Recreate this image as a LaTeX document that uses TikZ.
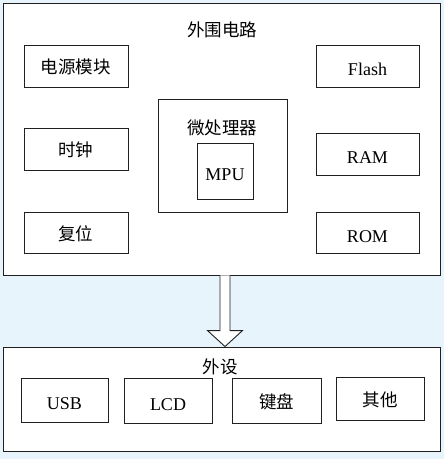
\documentclass[tikz,border=0pt]{standalone}
\usepackage{fontspec}
\setmainfont{Liberation Serif}
\newfontfamily\cjk{Noto Sans CJK SC}
\usetikzlibrary{calc}
\definecolor{bgblue}{HTML}{E8F4FC}
\definecolor{linec}{HTML}{202020}
\begin{document}
\begin{tikzpicture}[x=1pt,y=-1pt,
  box/.style={draw=linec, line width=0.9pt, fill=white, inner sep=0pt, anchor=center},
  lbl/.style={font=\fontsize{18}{20}\selectfont, inner sep=0pt, text height=19pt, text depth=0pt},
  clbl/.style={font=\cjk\fontsize{17.5}{20}\selectfont, inner sep=0pt, text height=15.5pt, text depth=0pt},
  titlelbl/.style={font=\cjk\fontsize{17.5}{20}\selectfont, inner sep=0pt}]
\fill[bgblue] (0,0) rectangle (444,459);
\useasboundingbox (0,0) rectangle (444,459);
% outer box
\node[box, minimum width=437pt, minimum height=272pt] (outer) at (221.5,139) {};
\node[titlelbl] (outerlbl) at (222,30) {外围电路};
% left column
\node[box, minimum width=104pt, minimum height=42pt, clbl] (pwr) at (76,66) {电源模块};
\node[box, minimum width=104pt, minimum height=42pt, clbl] (clk) at (76,149) {时钟};
\node[box, minimum width=104pt, minimum height=41pt, clbl] (rst) at (76,232.5) {复位};
% right column
\node[box, minimum width=103pt, minimum height=42pt, lbl] (flash) at (367.5,66) {Flash};
\node[box, minimum width=103pt, minimum height=42pt, lbl] (ram) at (367.5,154) {RAM};
\node[box, minimum width=103pt, minimum height=41pt, lbl] (rom) at (367.5,232.5) {ROM};
% microprocessor
\node[box, minimum width=129pt, minimum height=113pt] (cpu) at (222.5,155.5) {};
\node[titlelbl] (cpulbl) at (222,128) {微处理器};
\node[box, minimum width=56pt, minimum height=56pt, lbl] (mpu) at (225,171) {MPU};
% peripherals box
\node[box, minimum width=437pt, minimum height=104pt] (periph) at (222,399) {};
\node[titlelbl] (periphlbl) at (220,367) {外设};
\node[box, minimum width=87pt, minimum height=44pt, lbl] (usb) at (64.5,400) {USB};
\node[box, minimum width=88pt, minimum height=45pt, lbl] (lcd) at (168,400.5) {LCD};
\node[box, minimum width=89pt, minimum height=45pt, clbl] (kbd) at (276.5,400.5) {键盘};
\node[box, minimum width=88pt, minimum height=43pt, clbl] (other) at (380,398.5) {其他};
% hollow arrow
\coordinate (as) at (outer.south -| mpu.center);
\coordinate (ae) at (periph.north -| mpu.center);
\draw[draw=linec, line width=0.9pt, fill=white]
  ($(as)+(-5,0)$) -- ($(ae)+(-5,-16)$) -- ($(ae)+(-17.5,-16)$) -- (ae)
  -- ($(ae)+(17.5,-16)$) -- ($(ae)+(5,-16)$) -- ($(as)+(5,0)$);
\end{tikzpicture}
\end{document}
